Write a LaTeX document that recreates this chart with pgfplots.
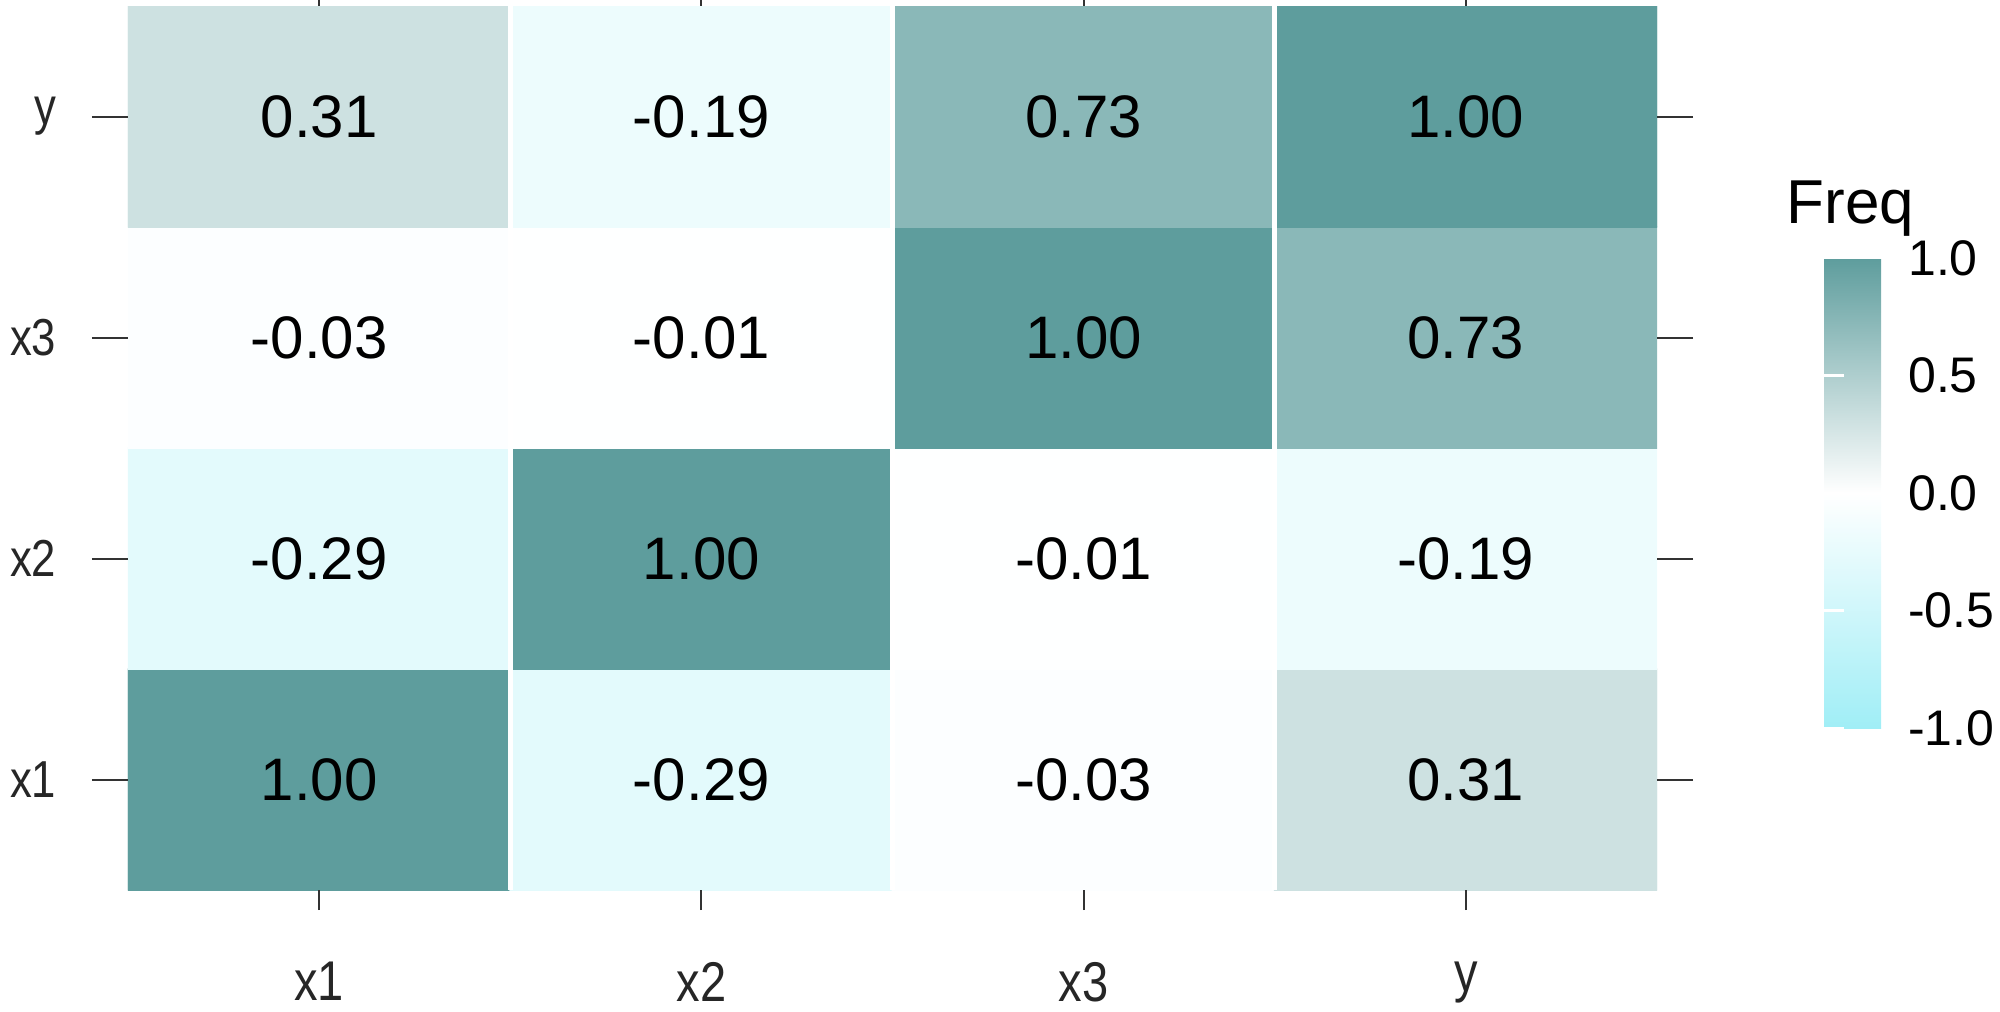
\documentclass[border=0pt]{standalone}
\usepackage{fontspec}
\setmainfont{Liberation Sans}
\newfontfamily\tickfont{Liberation Sans}[FakeStretch=0.84]
\usepackage{pgfplots}
\usepackage{pgfplotstable}
\pgfplotsset{compat=1.18}

\pgfplotstableread{
x y c
0 0 1.00
1 0 -0.29
2 0 -0.03
3 0 0.31
0 1 -0.29
1 1 1.00
2 1 -0.01
3 1 -0.19
0 2 -0.03
1 2 -0.01
2 2 1.00
3 2 0.73
0 3 0.31
1 3 -0.19
2 3 0.73
3 3 1.00
}\corrdata

\pgfplotstableread{
x y lab
0 0 1.00
1 0 -0.29
2 0 -0.03
3 0 0.31
0 1 -0.29
1 1 1.00
2 1 -0.01
3 1 -0.19
0 2 -0.03
1 2 -0.01
2 2 1.00
3 2 0.73
0 3 0.31
1 3 -0.19
2 3 0.73
3 3 1.00
}\labdata

\begin{document}
\begin{tikzpicture}
\useasboundingbox (0,0) rectangle (500pt,252.75pt);
\begin{axis}[
  at={(32pt,30.25pt)}, anchor=south west,
  scale only axis, width=382.25pt, height=221pt,
  xmin=-0.5, xmax=3.5, ymin=-0.5, ymax=3.5,
  enlargelimits=false,
  axis line style={draw=none},
  xtick={0,1,2,3}, ytick=\empty,
  xticklabels={x1,x2,x3,y},
  extra y ticks={0,1,2,3},
  extra y tick labels={x1,x2,x3,y},
  extra y tick style={major tick length=9pt, yticklabel style={xshift=-5.4pt}},
  tick align=outside, tick pos=both,
  xticklabel pos=bottom, yticklabel pos=left,
  major tick length=5pt,
  every tick/.style={draw=black!80, line width=0.5pt},
  tick label style={font=\tickfont\fontsize{13}{13}\selectfont, text=black!85},
  xticklabel style={font=\tickfont\fontsize{14}{14}\selectfont, yshift=-9.5pt},
  minor xtick={0.5,1.5,2.5}, minor ytick={0.5,1.5,2.5},
  minor tick length=0pt,
  xminorgrids, yminorgrids,
  minor grid style={draw=white, line width=1.3pt},
  axis on top,
  colormap={corr}{rgb255(0)=(160,238,246) rgb255(1)=(255,255,255) rgb255(2)=(94,157,157)},
  point meta min=-1, point meta max=1,
  colorbar,
  colorbar style={
    scale only axis, width=23.5pt, height=117.5pt,
    at={(parent axis.south east)}, anchor=south west,
    xshift=33.25pt, yshift=40.5pt,
    axis line style={draw=none},
    axis on top,
    ytick={-1,-0.5,0,0.5,1},
    yticklabels={-1.0,-0.5,0.0,0.5,1.0},
    tick align=inside, ytick pos=both, yticklabel pos=right,
    major tick length=5pt,
    every tick/.style={draw=white, line width=0.6pt},
    yticklabel style={font=\fontsize{12.5}{12.5}\selectfont, text=black, xshift=-6pt},
  },
]
\addplot[matrix plot*, mesh/cols=4, point meta=explicit] table[meta=c] {\corrdata};
\addplot[only marks, mark=none, black, point meta=explicit symbolic,
  nodes near coords,
  nodes near coords style={font=\fontsize{15}{15}\selectfont, anchor=center, text=black}]
  table[meta=lab] {\labdata};
\end{axis}
\node[anchor=base west, inner sep=0pt, font=\fontsize{15.5}{15.5}\selectfont] at (446.5pt,197pt) {Freq};
\end{tikzpicture}
\end{document}
